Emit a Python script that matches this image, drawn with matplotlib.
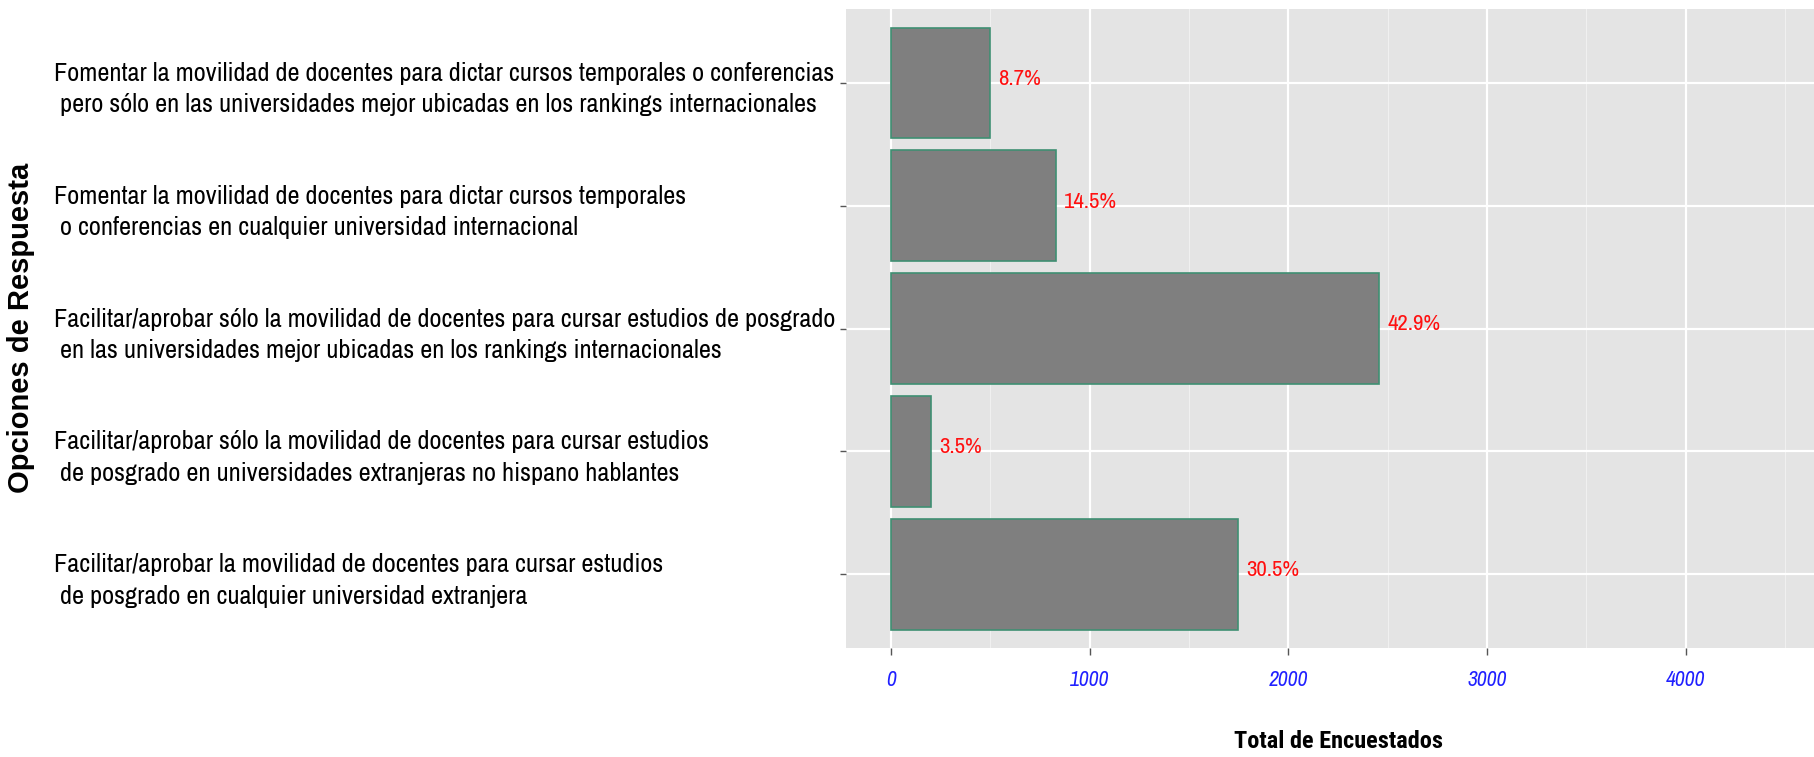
import matplotlib
matplotlib.use("Agg")
import matplotlib.pyplot as plt
from matplotlib.ticker import MultipleLocator

# datos de la encuesta (de arriba hacia abajo)
opciones = [
    "Fomentar la movilidad de docentes para dictar cursos temporales o conferencias\n pero sólo en las universidades mejor ubicadas en los rankings internacionales",
    "Fomentar la movilidad de docentes para dictar cursos temporales\n o conferencias en cualquier universidad internacional",
    "Facilitar/aprobar sólo la movilidad de docentes para cursar estudios de posgrado\n en las universidades mejor ubicadas en los rankings internacionales",
    "Facilitar/aprobar sólo la movilidad de docentes para cursar estudios\n de posgrado en universidades extranjeras no hispano hablantes",
    "Facilitar/aprobar la movilidad de docentes para cursar estudios\n de posgrado en cualquier universidad extranjera",
]
totales = [499, 831, 2458, 201, 1748]
porcentajes = ["8.7%", "14.5%", "42.9%", "3.5%", "30.5%"]
xticks = [0, 1000, 2000, 3000, 4000]

narrow = ["Archivo Narrow", "DejaVu Sans"]
narrow_bold = ["Roboto Condensed", "DejaVu Sans"]

fig = plt.figure(figsize=(18.14, 7.57), dpi=100)
ax = fig.add_axes([0.4664, 0.144, 0.5424, 0.844])
ax.set_facecolor("#E4E4E4")

pos = list(range(1, len(opciones) + 1))
ax.barh(pos, totales, height=0.9, color="#7F7F7F", edgecolor="#3f8f72",
        linewidth=1.2, zorder=3)

for p, v, txt in zip(pos, totales, porcentajes):
    ax.annotate(txt, (v, p), xytext=(6, 3), textcoords="offset points",
                ha="left", va="center", color="#FF1010", fontsize=16.5,
                family=narrow, zorder=4)

ax.set_xlim(-225, 4725)
ax.set_ylim(5.6, 0.4)

ax.set_xticks(xticks)
ax.set_xticklabels([str(t) for t in xticks], color="#2020FF", style="italic",
                   fontsize=15.5, family=narrow)
ax.xaxis.set_minor_locator(MultipleLocator(500))
ax.set_yticks(pos)
ax.set_yticklabels(opciones, fontsize=19, family=narrow, linespacing=1.45)
for lab in ax.get_yticklabels():
    lab.set_horizontalalignment("left")

ax.tick_params(axis="x", which="major", length=5, width=1, color="#555555", pad=11)
ax.tick_params(axis="x", which="minor", length=0)
ax.tick_params(axis="y", length=4, width=1, color="#555555", pad=566)

ax.grid(which="major", color="white", linewidth=1.6, zorder=0)
ax.grid(which="minor", axis="x", color="#F0F0F0", linewidth=0.8, zorder=0)
ax.set_axisbelow(True)
for s in ax.spines.values():
    s.set_visible(False)

ax.set_xlabel("Total de Encuestados", fontsize=17.5, fontweight="bold",
              family=narrow_bold, labelpad=29)
fig.text(0.0116, 0.567, "Opciones de Respuesta", rotation=90, ha="center",
         va="center", fontsize=21, fontweight="bold", family="Liberation Sans")

fig.savefig("out.png", dpi=100)
